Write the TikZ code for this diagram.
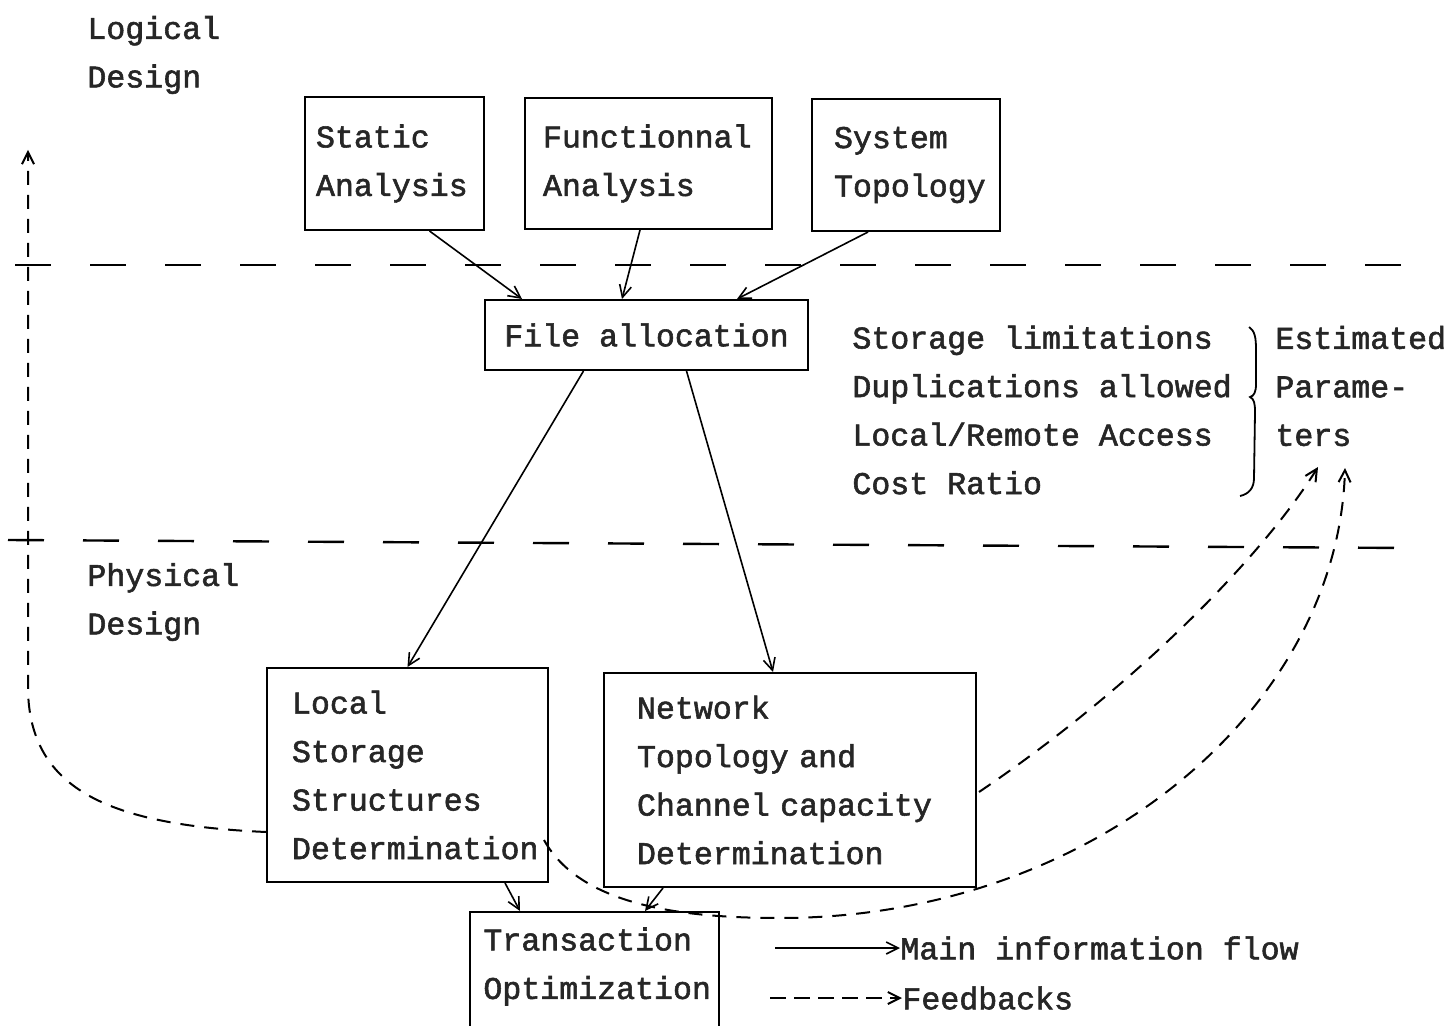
\documentclass[tikz,border=0pt]{standalone}
\usepackage{fontspec}
\setmainfont{Liberation Mono}[RawFeature={embolden=1.8}]
\usetikzlibrary{arrows.meta,calc}
\newcommand{\twfont}{\fontsize{15.8}{24.25}\selectfont}
\begin{document}
\begin{tikzpicture}[x=0.5pt,y=-0.5pt,
  txt/.style={font=\twfont, text=black!85},
  lbl/.style={txt, align=left, anchor=west, inner sep=0pt},
  box/.style={draw, line width=1pt, txt, align=left},
  flow/.style={line width=0.8pt, -{Straight Barb[length=6pt,width=6pt]}},
  fb/.style={line width=1pt, dash pattern=on 7pt off 5pt, -{Straight Barb[length=6pt,width=6pt]}},
  sepline/.style={line width=1.2pt, dash pattern=on 18pt off 19.5pt}]
\useasboundingbox (0,0) rectangle (1449,1026);

% section labels
\node[lbl] (logical) at (87,55) {Logical\\Design};
\node[lbl] (physical) at (87,602) {Physical\\Design};

% top boxes
\node[box, minimum height=66.5pt, text width=78.5pt, inner xsep=5.5pt] (sa) at (394.5,163.5) {Static\\Analysis};
\node[box, minimum height=65.5pt, text width=105.5pt, inner xsep=9pt] (fa) at (648.5,163.5) {Functionnal\\Analysis};
\node[box, minimum height=66pt, text width=72pt, inner xsep=11pt] (st) at (906,165) {System\\Topology};

% file allocation
\node[box, align=center, minimum width=161.5pt, minimum height=35pt] (fal) at (646.5,335) {File allocation};

% parameters
\node[lbl] (params) at (852,410) {Storage limitations\\Duplications allowed\\Local/Remote Access\\Cost Ratio};
\node[lbl] (est) at (1275,386) {Estimated\\Parame-\\ters};
\draw[line width=0.9pt] (1249,327) .. controls (1255,331) and (1256,338) .. (1256,350) -- (1256,384)
  .. controls (1256,392) and (1254,396) .. (1250,397) .. controls (1254,399) and (1255,403) .. (1255,412)
  -- (1254,478) .. controls (1254,488) and (1249,494) .. (1240,496);

% lower boxes
\node[box, minimum height=107pt, text width=115.5pt, inner xsep=12.5pt] (ls) at (407.5,775) {Local\\Storage\\Structures\\Determination};
\node[box, minimum height=107pt, text width=153pt, inner xsep=16.5pt] (nw) at (790,780) {Network\\Topology and\\Channel capacity\\Determination};
\node[draw, line width=1pt, minimum width=124.5pt, minimum height=65pt, inner sep=0pt] (to) at (594.5,977) {};
\node[lbl] (totxt) at (483,966.5) {Transaction\\Optimization};

% separators
\coordinate (s1a) at (15,265); \coordinate (s1b) at (1405,265);
\coordinate (s2a) at (8,540); \coordinate (s2b) at (1412,548);
\draw[sepline] (s1a) -- (s1b);
\draw[sepline] (s2a) -- (s2b);

% main flow
\draw[flow] ($(sa.south)+(35,0)$) -- ($(fal.north)+(-124.5,0)$);
\draw[flow] ($(fa.south)+(-8.5,0)$) -- ($(fal.north)+(-24.5,0)$);
\draw[flow] ($(st.south)+(-38,0)$) -- ($(fal.north)+(90.5,0)$);
\draw[flow] ($(fal.south)+(-63,0)$) -- (ls.north);
\draw[flow] ($(fal.south)+(40,0)$) -- ($(nw.north)+(-17,0)$);
\draw[flow] ($(ls.south)+(97.5,0)$) -- ($(to.north)+(-74.5,0)$);
\draw[flow] ($(nw.south)+(-127,0)$) -- ($(to.north)+(50.5,0)$);

% feedbacks
\coordinate (fbtop) at (28,150);
\coordinate (tipa) at (1318,467);
\coordinate (tipb) at (1345,468);
\coordinate (fbmid) at (780,918);
\draw[fb] ($(ls.west)+(0,57)$) .. controls (110,825) and (30,790) .. (28,690) -- (fbtop);
\draw[fb] ($(nw.east)+(2,12)$) .. controls (1130,690) and (1260,560) .. (tipa);
\draw[fb] ($(ls.east)+(-5,65)$) .. controls (580,905) and (680,918) .. (fbmid)
  .. controls (1091,918) and (1338,710) .. (tipb);

% legend
\node[lbl] (lg1) at (900,948) {Main information flow};
\node[lbl] (lg2) at (902,998) {Feedbacks};
\coordinate (lg1s) at (775,948);
\coordinate (lg2s) at (770,998);
\draw[flow] (lg1s) -- (lg1.west);
\draw[fb, dash pattern=on 8pt off 4pt] (lg2s) -- (lg2.west);
\end{tikzpicture}
\end{document}
